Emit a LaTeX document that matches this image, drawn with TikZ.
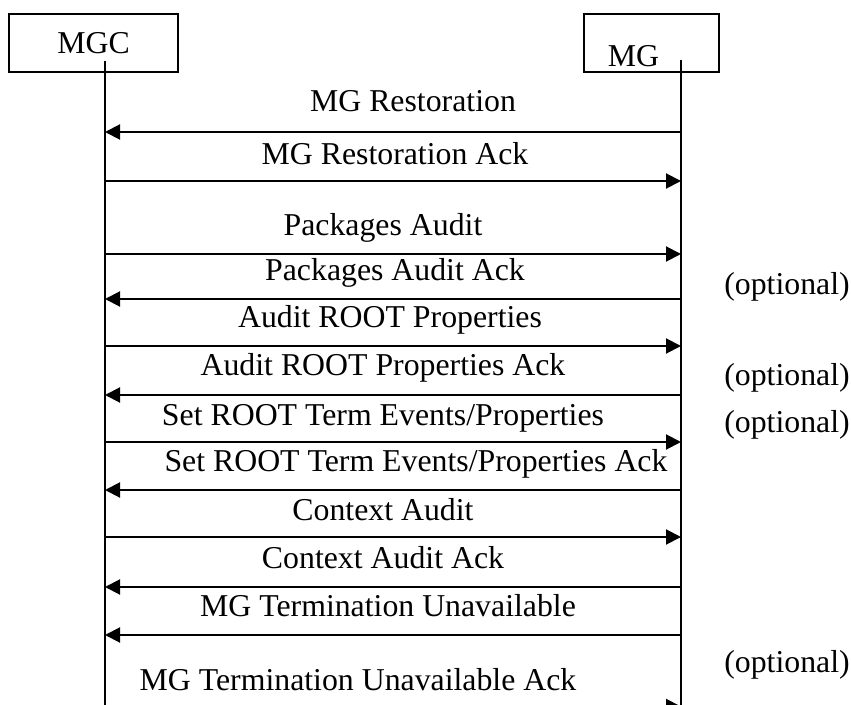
\documentclass[tikz,border=0pt]{standalone}
\usepackage{fontspec}
\setmainfont{Liberation Serif}
\usetikzlibrary{arrows.meta}

\begin{document}
\begin{tikzpicture}[
            x=0.5pt, y=-0.5pt,
            line join=miter,
            >={Triangle[length=7.5pt,width=7.5pt]},
            every node/.style={font=\fontsize{15.9pt}{19pt}\selectfont, inner sep=0pt},
            entity/.style={draw, line width=0.75pt, minimum width=84.5pt, minimum height=29pt},
            lifeline/.style={line width=0.8pt},
            msg/.style={line width=1pt, ->},
            msglabel/.style={anchor=base}
        ]

        % Frame
        \useasboundingbox (0,0) rectangle (851,705);
        \clip (0,0) rectangle (851,705);

        % Entities
        \node[entity] (mgc) at (93.5,43) {MGC};
        \node[entity, minimum width=67.5pt] (mg) at (651.5,43) {};
        \node[anchor=base] (mgtext) at (633.5,67) {MG};

        % Lifelines
        \coordinate (mgctop) at (105,61);
        \coordinate (mgcbot) at (105,705);
        \coordinate (mgtop) at (681,60);
        \coordinate (mgbot) at (681,705);
        \draw[lifeline] (mgctop) -- (mgcbot);
        \draw[lifeline] (mgtop) -- (mgbot);

        % Message end points on both lifelines
        \foreach \i/\y in {1/132,2/181,3/254,4/299,5/346,6/395,
                           7/442,8/490,9/537,10/587,11/635,12/706.5}{
            \coordinate (mgc\i) at (105,\y);
            \coordinate (mg\i) at (681,\y);
        }

        % Restoration
        \draw[msg] (mg1) -- (mgc1);
        \node[msglabel] (l1) at (413,112) {MG Restoration};
        \draw[msg] (mgc2) -- (mg2);
        \node[msglabel] (l2) at (395,165) {MG Restoration Ack};

        % Audits
        \draw[msg] (mgc3) -- (mg3);
        \node[msglabel] (l3) at (383,236) {Packages Audit};
        \draw[msg] (mg4) -- (mgc4);
        \node[msglabel] (l4) at (395,281) {Packages Audit Ack};
        \draw[msg] (mgc5) -- (mg5);
        \node[msglabel] (l5) at (390,328) {Audit ROOT Properties};
        \draw[msg] (mg6) -- (mgc6);
        \node[msglabel] (l6) at (383,376) {Audit ROOT Properties Ack};

        % ROOT termination set-up
        \draw[msg] (mgc7) -- (mg7);
        \node[msglabel] (l7) at (383,426) {Set ROOT Term Events/Properties};
        \draw[msg] (mg8) -- (mgc8);
        \node[msglabel] (l8) at (416,472) {Set ROOT Term Events/Properties Ack};

        % Context audit
        \draw[msg] (mgc9) -- (mg9);
        \node[msglabel] (l9) at (383,520) {Context Audit};
        \draw[msg] (mg10) -- (mgc10);
        \node[msglabel] (l10) at (383,568) {Context Audit Ack};

        % Unavailable terminations
        \draw[msg] (mg11) -- (mgc11);
        \node[msglabel] (l11) at (388,616) {MG Termination Unavailable};
        \draw[msg] (mgc12) -- (mg12);
        \node[msglabel] (l12) at (358,690) {MG Termination Unavailable Ack};

        % Optional remarks
        \node[msglabel] (o1) at (787,295) {(optional)};
        \node[msglabel] (o2) at (787,386) {(optional)};
        \node[msglabel] (o3) at (787,432) {(optional)};
        \node[msglabel] (o4) at (787,672) {(optional)};

        \end{tikzpicture}
\end{document}
